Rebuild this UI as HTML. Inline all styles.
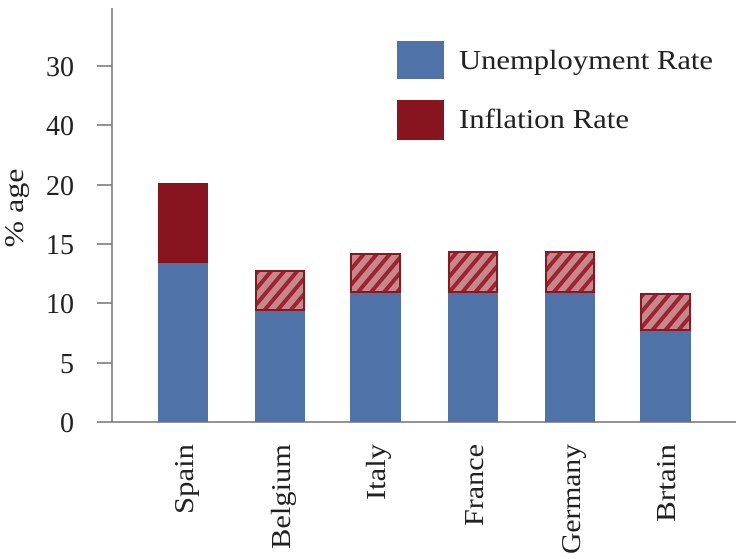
<!DOCTYPE html>
<html><head><meta charset="utf-8"><style>body{margin:0;background:#fff}svg{display:block}</style></head>
<body>
<svg width="744" height="559" viewBox="0 0 744 559" xmlns="http://www.w3.org/2000/svg" font-family="Liberation Serif, serif">
<defs>
<pattern id="h" patternUnits="userSpaceOnUse" width="10" height="10" patternTransform="rotate(40)">
<rect width="10" height="10" fill="#c8878b"/>
<rect width="4" height="10" fill="#9a2530"/>
</pattern>
</defs>
<g fill="#4f73a8">
<rect x="158" y="263" width="50" height="159"/>
<rect x="255" y="310" width="50" height="112"/>
<rect x="350" y="292" width="51" height="130"/>
<rect x="448" y="292" width="50" height="130"/>
<rect x="545" y="292" width="50" height="130"/>
<rect x="640" y="330" width="51" height="92"/>
</g>
<rect x="158" y="183" width="50" height="80" fill="#87141f"/>
<g fill="url(#h)" stroke="#8a1822" stroke-width="2">
<rect x="256" y="271" width="48" height="39"/>
<rect x="351" y="254" width="49" height="38"/>
<rect x="449" y="252" width="48" height="40"/>
<rect x="546" y="252" width="48" height="40"/>
<rect x="641" y="294" width="49" height="36"/>
</g>
<g stroke="#707070" stroke-width="1.5">
<line x1="112" y1="8" x2="112" y2="422"/>
<line x1="97" y1="422" x2="736" y2="422"/>
<line x1="97" y1="363" x2="112" y2="363"/>
<line x1="97" y1="303" x2="112" y2="303"/>
<line x1="97" y1="244" x2="112" y2="244"/>
<line x1="97" y1="185" x2="112" y2="185"/>
<line x1="97" y1="125" x2="112" y2="125"/>
<line x1="97" y1="66" x2="112" y2="66"/>
</g>
<g font-size="28" fill="#222" text-anchor="end">
<text x="74" y="432">0</text>
<text x="74" y="373">5</text>
<text x="74" y="313">10</text>
<text x="74" y="254">15</text>
<text x="74" y="195">20</text>
<text x="74" y="135">40</text>
<text x="74" y="76">30</text>
</g>
<text transform="translate(23,208) rotate(-90)" font-size="27" fill="#222" text-anchor="middle" textLength="79" lengthAdjust="spacingAndGlyphs">% age</text>
<g font-size="27" fill="#222" text-anchor="end">
<text transform="translate(193,444) rotate(-90)" textLength="70" lengthAdjust="spacingAndGlyphs">Spain</text>
<text transform="translate(290,444) rotate(-90)" textLength="105" lengthAdjust="spacingAndGlyphs">Belgium</text>
<text transform="translate(385,444) rotate(-90)" textLength="56" lengthAdjust="spacingAndGlyphs">Italy</text>
<text transform="translate(483,444) rotate(-90)" textLength="82" lengthAdjust="spacingAndGlyphs">France</text>
<text transform="translate(580,444) rotate(-90)" textLength="110" lengthAdjust="spacingAndGlyphs">Germany</text>
<text transform="translate(675,444) rotate(-90)" textLength="78" lengthAdjust="spacingAndGlyphs">Brtain</text>
</g>
<rect x="397" y="41" width="47" height="38" fill="#4f73a8"/>
<rect x="397" y="100" width="47" height="40" fill="#87141f"/>
<g font-size="27" fill="#222">
<text x="459" y="69" textLength="254" lengthAdjust="spacingAndGlyphs">Unemployment Rate</text>
<text x="459" y="128" textLength="170" lengthAdjust="spacingAndGlyphs">Inflation Rate</text>
</g>
</svg>
</body></html>
